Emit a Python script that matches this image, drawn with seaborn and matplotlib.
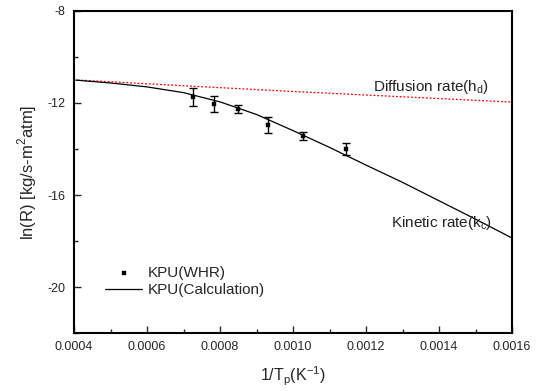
import numpy as np
import pandas as pd
import matplotlib
matplotlib.use("Agg")
import matplotlib.pyplot as plt
from matplotlib.ticker import MultipleLocator
import seaborn as sns

# measured points (KPU, WHR)
x_pts = [0.000726, 0.000784, 0.000849, 0.000932, 0.001027, 0.001145]
y_pts = [-11.73, -12.04, -12.27, -12.96, -13.43, -14.01]
y_err = [0.40, 0.33, 0.18, 0.35, 0.18, 0.27]

# calculated curve
x_calc = [0.0004, 0.0005, 0.0006, 0.0007, 0.0008, 0.0009, 0.0010,
          0.0011, 0.0012, 0.0013, 0.0014, 0.0015, 0.0016]
y_calc = [-11.0, -11.13, -11.3, -11.55, -11.95, -12.5, -13.2,
          -13.93, -14.7, -15.45, -16.25, -17.05, -17.87]

# diffusion limit (red dotted)
x_diff = [0.00041, 0.0007, 0.0010, 0.0013, 0.0016]
y_diff = [-11.0, -11.25, -11.5, -11.73, -11.96]

sns.set_style("white")
plt.rcParams['font.family'] = ['Liberation Sans', 'DejaVu Sans']
plt.rcParams['mathtext.fontset'] = 'custom'
plt.rcParams['mathtext.rm'] = 'Liberation Sans'
plt.rcParams['axes.unicode_minus'] = False

fig = plt.figure(figsize=(5.37, 3.91), dpi=100)
ax = fig.add_axes([0.1378, 0.1483, 0.8157, 0.8236])

calc = pd.DataFrame({"x": x_calc, "y": y_calc})
diff = pd.DataFrame({"x": x_diff, "y": y_diff})
pts = pd.DataFrame({"x": x_pts, "y": y_pts})

sns.lineplot(data=diff, x="x", y="y", ax=ax, color="red", linestyle=(0, (1.5, 1.5)), linewidth=0.9)
sns.lineplot(data=calc, x="x", y="y", ax=ax, color="black", linewidth=0.9,
             label="KPU(Calculation)")
ax.errorbar(x_pts, y_pts, yerr=y_err, fmt="none", ecolor="black", elinewidth=1,
            capsize=3, capthick=1)
sns.scatterplot(data=pts, x="x", y="y", ax=ax, marker="s", s=12, color="black",
                edgecolor="black", label="KPU(WHR)", zorder=5)

ax.set_xlim(0.0004, 0.0016)
ax.set_ylim(-22, -8)
ax.xaxis.set_major_locator(MultipleLocator(0.0002))
ax.xaxis.set_minor_locator(MultipleLocator(0.0001))
ax.yaxis.set_major_locator(MultipleLocator(4))
ax.yaxis.set_minor_locator(MultipleLocator(2))
ax.set_xticks([0.0004, 0.0006, 0.0008, 0.0010, 0.0012, 0.0014, 0.0016])
ax.set_xticklabels(["0.0004", "0.0006", "0.0008", "0.0010", "0.0012", "0.0014", "0.0016"])
ax.tick_params(which="major", direction="in", length=5, width=1, labelsize=9,
               bottom=True, left=True, pad=6)
ax.tick_params(which="minor", direction="in", length=3, width=1, bottom=True, left=True)
for sp in ax.spines.values():
    sp.set_color("black")
    sp.set_linewidth(1.5)

ax.set_xlabel(r"1/T$_\mathregular{p}$(K$^\mathregular{-1}$)", fontsize=11.5, labelpad=8)
ax.set_ylabel(r"ln(R) [kg/s-m$^\mathregular{2}$atm]", fontsize=12, labelpad=6)

ax.text(0.001378, -11.3, r"Diffusion rate(h$_\mathregular{d}$)", fontsize=11,
        ha="center", va="center", color="#222222")
ax.text(0.001408, -17.2, r"Kinetic rate(k$_\mathregular{c}$)", fontsize=11,
        ha="center", va="center", color="#222222")

h, l = ax.get_legend_handles_labels()
order = [l.index("KPU(WHR)"), l.index("KPU(Calculation)")]
ax.legend([h[i] for i in order], [l[i] for i in order], loc="upper left",
          bbox_to_anchor=(0.04, 0.25), frameon=False, fontsize=11,
          handlelength=2.4, handletextpad=0.4, labelspacing=0.2, markerscale=0.8)

fig.savefig("out.png", dpi=100)
